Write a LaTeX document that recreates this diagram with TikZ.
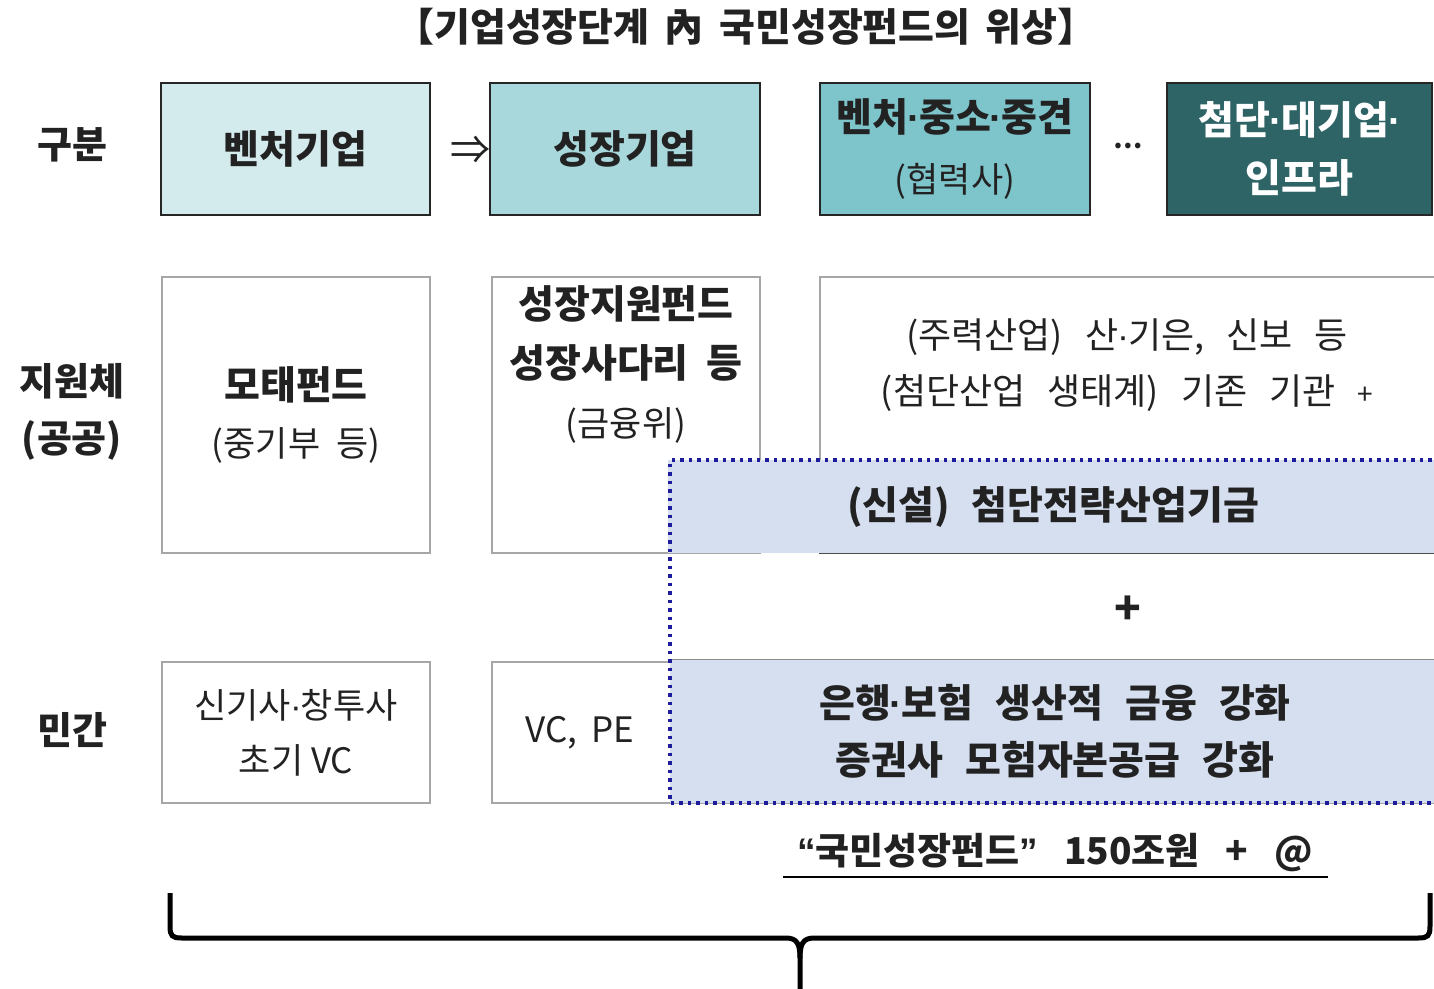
\documentclass[tikz,border=0pt]{standalone}
\usepackage{fontspec}
\setmainfont{Noto Sans CJK KR}
\newfontfamily\latinf{Liberation Sans}
\newcommand\md{{\latinf\kern-1pt·\kern-1pt}}
\newcommand\wsp{\hspace{14pt}}
\newcommand\wwsp{\hspace{22pt}}
\definecolor{tA}{HTML}{D4EBEE}
\definecolor{tB}{HTML}{A8D7DC}
\definecolor{tC}{HTML}{7EC4CB}
\definecolor{tD}{HTML}{2E6466}
\definecolor{bfill}{HTML}{D5DFF0}
\definecolor{navy}{HTML}{1C1C9C}
\definecolor{ink}{HTML}{222222}
\newcommand\fBig{\fontsize{39}{57}\selectfont\bfseries}
\newcommand\fReg{\fontsize{35}{57}\selectfont}
\begin{document}
\begin{tikzpicture}[x=1pt,y=-1pt,
  topbox/.style={draw=black!85, line width=2.2pt, minimum height=132pt, align=center, text=ink, inner sep=0pt},
  graybox/.style={draw=black!35, line width=1.3pt, fill=white, align=center, text=ink, inner sep=0pt},
  bluebox/.style={fill=bfill, draw=none, align=center, text=ink, inner sep=0pt},
  lbl/.style={font=\fontsize{38}{57}\selectfont\bfseries, text=ink, align=center},
  dotline/.style={draw=navy, line width=3.5pt, dash pattern=on 3.5pt off 5pt},
  brace/.style={draw=black, line width=5pt}]
\clip (0,0) rectangle (1434,988);
\fill[white] (0,0) rectangle (1434,988);
% title
\node[font=\fontsize{39}{44}\selectfont\bfseries, text=ink] (title) at (746,27) {【기업성장단계 \,內\, 국민성장펀드의 \,위상】};
% row labels
\node[lbl] (l1) at (72,145) {구분};
\node[lbl] (l2) at (72,412) {지원체\\(공공)};
\node[lbl] (l3) at (72,730) {민간};
% top boxes
\node[topbox, fill=tA, minimum width=269pt, font=\fBig] (b1) at (295.5,149) {벤처기업};
\node[topbox, fill=tB, minimum width=270pt, font=\fBig] (b2) at (625,149) {성장기업};
\node[topbox, fill=tC, minimum width=270pt, font=\fontsize{35}{61}\selectfont] (b3) at (955,149) {{\fBig 벤처\md 중소\md 중견}\\{\fReg (협력사)}};
\node[topbox, fill=tD, minimum width=265pt, text=white, font=\fontsize{39}{58}\selectfont\bfseries] (b4) at (1299.5,149) {첨단\md 대기업\md\\인프라};
\node[font=\fontsize{40}{40}\selectfont, text=ink] (arr) at (470,150) {⇒};
\node[font=\fontsize{26}{30}\selectfont\bfseries, text=ink] (dots) at (1128,146) {…};
% middle row
\node[graybox, minimum width=268pt, minimum height=276pt, font=\fReg] (m1) at (296,415) {{\fBig 모태펀드}\\{\fReg (중기부 \ 등)}};
\node[graybox, minimum width=268pt, minimum height=276pt] (m2) at (626,415) {};
\node[align=center, text=ink, inner sep=0pt, font=\fontsize{35}{59}\selectfont] (m2t) at (626,364) {{\fBig 성장지원펀드}\\{\fBig 성장사다리 \ 등}\\{\fReg (금융위)}};
\node[graybox, minimum width=620pt, minimum height=276pt] (m3) at (1130,415) {};
\node[align=center, text=ink, font=\fontsize{36}{56}\selectfont, inner sep=0pt] (m3t) at (1127,365) {(주력산업)\wwsp 산\md 기은,\wwsp 신보\wwsp 등\\(첨단산업\wwsp 생태계)\wwsp 기존\wwsp 기관\wwsp {\fontsize{28}{28}\selectfont +}};
% bottom row
\node[graybox, minimum width=268pt, minimum height=141pt, font=\fontsize{35}{55}\selectfont] (p1) at (296,732.5) {신기사\md 창투사\\초기 VC};
\node[graybox, minimum width=948pt, minimum height=141pt] (p2) at (966,732.5) {};
\node[font=\fReg, text=ink] (vcpe) at (580,733) {VC,\wsp PE};
% blue new fund area
\node[bluebox, minimum width=770pt, minimum height=93pt, font=\fBig] (n1) at (1053,506.5) {(신설)\wwsp 첨단전략산업기금};
\node[bluebox, minimum width=770pt, minimum height=143pt, font=\fontsize{39}{57}\selectfont\bfseries] (n2) at (1055,731.5) {은행\md 보험\wwsp 생산적\wwsp 금융\wwsp 강화\\증권사\wwsp 모험자본공급\wwsp 강화};
\draw[black!70, line width=1.6pt] (m3.south west) -- (m3.south east);
\draw[black!45, line width=1.3pt] (n2.north west) -- (n2.north east);
\node[font=\fontsize{44}{44}\selectfont\bfseries, text=ink] (plus) at (1128,610) {+};
\coordinate (dTR) at (1440,460);
\coordinate (dTL) at (670,460);
\coordinate (dBL) at (670,803);
\coordinate (dBR) at (1440,803);
\draw[dotline] (dTR) -- (dTL) -- (dBL) -- (dBR);
% total
\node[font=\fontsize{37}{44}\selectfont\bfseries, text=ink] (tot) at (1055,853) {{\latinf “}국민성장펀드{\latinf ”}\hspace{26pt}150조원\hspace{26pt}+\hspace{26pt}@};
\draw[black, line width=2pt] (783,877) -- (1328,877);
% brace
\coordinate (bl) at (170,893);
\coordinate (br) at (1430,893);
\coordinate (bt) at (800,995);
\draw[brace] (bl) -- (170,926) .. controls (170,936) and (172,938) .. (182,938) -- (786,938) .. controls (797,938) and (800,944) .. (800,958) -- (bt);
\draw[brace] (br) -- (1430,926) .. controls (1430,936) and (1428,938) .. (1418,938) -- (814,938) .. controls (803,938) and (800,944) .. (800,958);
\end{tikzpicture}
\end{document}
